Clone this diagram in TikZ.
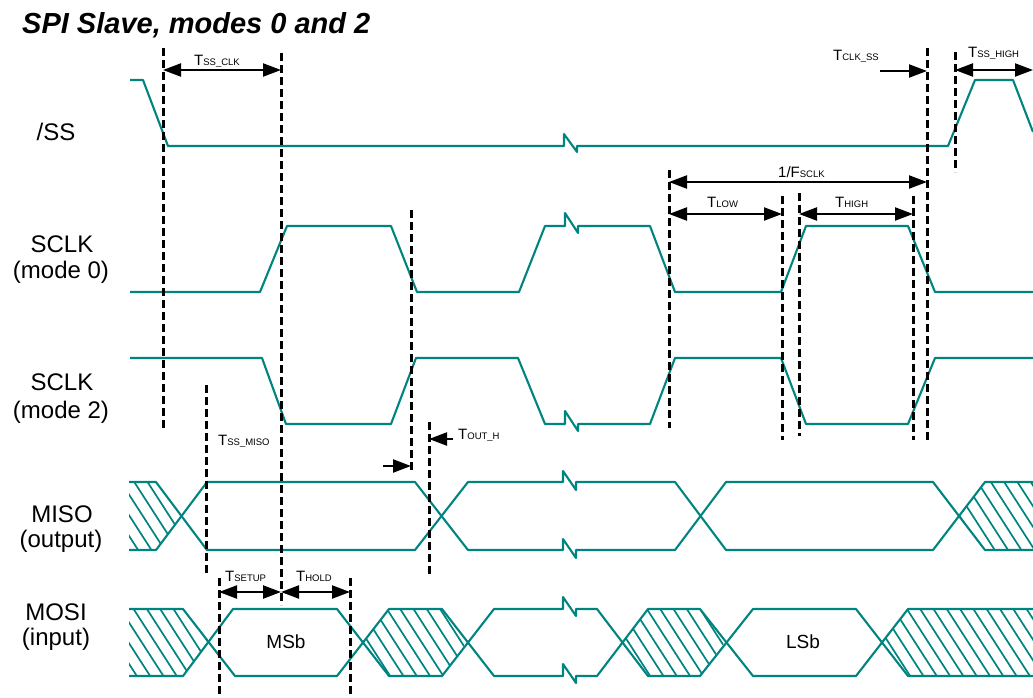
\documentclass[tikz,border=0pt]{standalone}
\usepackage{fontspec}
\setmainfont{Liberation Sans}
\usetikzlibrary{arrows.meta}
\definecolor{sig}{RGB}{0,132,128}
\newcommand\tlab[2]{{\fontsize{15}{15}\selectfont #1}{\fontsize{9.5}{9.5}\selectfont #2}}
\begin{document}
\begin{tikzpicture}[x=1pt,y=-1pt,
  signal/.style={draw=sig,line width=2.1pt,line join=round},
  hatchline/.style={draw=sig,line width=1.7pt},
  guide/.style={draw=black,line width=3pt,dash pattern=on 8pt off 4pt},
  dim/.style={draw=black,line width=2.2pt,{Triangle[length=18pt,width=13pt]}-{Triangle[length=18pt,width=13pt]}},
  dimr/.style={draw=black,line width=2.2pt,-{Triangle[length=18pt,width=13pt]}},
  sigtext/.style={font=\fontsize{24}{26}\selectfont,anchor=base,inner sep=0pt},
  tsub/.style={anchor=base west,inner sep=0pt},
  datatext/.style={font=\fontsize{19}{20}\selectfont,inner sep=0pt}]
\useasboundingbox (0,0) rectangle (1033,697);

% title
\node[anchor=base west,inner sep=0pt,font=\fontsize{29}{31}\selectfont\bfseries\itshape] (title) at (22,33) {SPI Slave, modes 0 and 2};

% signal names
\node[sigtext] (lss) at (56,140) {/SS};
\node[sigtext] (lclk0a) at (62,252) {SCLK};
\node[sigtext] (lclk0b) at (61,278) {(mode 0)};
\node[sigtext] (lclk2a) at (62,390) {SCLK};
\node[sigtext] (lclk2b) at (61,418) {(mode 2)};
\node[sigtext] (lmisoa) at (62,522) {MISO};
\node[sigtext] (lmisob) at (61,547) {(output)};
\node[sigtext] (lmosia) at (56,620) {MOSI};
\node[sigtext] (lmosib) at (56,645) {(input)};

% hatching
\begin{scope}
\clip (129,482) -- (156,482) -- (181,516) -- (156,550) -- (129,550) -- cycle;
\foreach \i in {60,73.3,...,200} \draw[hatchline] (\i,470) -- ++(58,90);
\end{scope}
\begin{scope}
\clip (959,516) -- (985,482) -- (1033,482) -- (1033,550) -- (985,550) -- cycle;
\foreach \i in {890,903.3,...,1040} \draw[hatchline] (\i,470) -- ++(58,90);
\end{scope}
\begin{scope}
\clip (129,609) -- (183,609) -- (208,642) -- (183,676) -- (129,676) -- cycle;
\foreach \i in {60,73.3,...,220} \draw[hatchline] (\i,598) -- ++(58,90);
\end{scope}
\begin{scope}
\clip (363,642) -- (388,609) -- (442,609) -- (467,642) -- (442,676) -- (388,676) -- cycle;
\foreach \i in {300,313.3,...,480} \draw[hatchline] (\i,598) -- ++(58,90);
\end{scope}
\begin{scope}
\clip (623,642) -- (648,609) -- (700,609) -- (725,642) -- (700,676) -- (648,676) -- cycle;
\foreach \i in {560,573.3,...,740} \draw[hatchline] (\i,598) -- ++(58,90);
\end{scope}
\begin{scope}
\clip (883,642) -- (908,609) -- (1033,609) -- (1033,676) -- (908,676) -- cycle;
\foreach \i in {820,833.3,...,1040} \draw[hatchline] (\i,598) -- ++(58,90);
\end{scope}

% /SS
\draw[signal] (130,80) -- (143,80) -- (168,146) -- (564,146) -- (564,134) -- (577,152) -- (577,146)
  -- (948,146) -- (975,80) -- (1013,80) -- (1033,132);
% SCLK mode 0
\draw[signal] (130,292) -- (260,292) -- (287,226) -- (391,226) -- (417,292) -- (519,292) -- (545,226)
  -- (565,226) -- (565,213) -- (578,233) -- (578,226) -- (650,226) -- (675,292) -- (781,292)
  -- (806,226) -- (908,226) -- (935,292) -- (1033,292);
% SCLK mode 2
\draw[signal] (130,358) -- (262,358) -- (286,424) -- (391,424) -- (416,358) -- (518,358) -- (545,424)
  -- (565,424) -- (565,411) -- (578,431) -- (578,424) -- (650,424) -- (675,358) -- (781,358)
  -- (806,424) -- (908,424) -- (935,358) -- (1033,358);
% MISO
\draw[signal] (129,482) -- (156,482) -- (207,550) -- (415,550) -- (468,482)
  -- (563,482) -- (563,471) -- (576,490) -- (576,482) -- (675,482) -- (726,550) -- (933,550) -- (985,482) -- (1033,482);
\draw[signal] (129,550) -- (156,550) -- (207,482) -- (415,482) -- (468,550)
  -- (563,550) -- (563,539) -- (576,558) -- (576,550) -- (675,550) -- (726,482) -- (933,482) -- (985,550) -- (1033,550);
% MOSI
\draw[signal] (129,609) -- (183,609) -- (235,676) -- (337,676) -- (389,609) -- (442,609) -- (494,676)
  -- (563,676) -- (563,664) -- (576,683) -- (576,676) -- (597,676) -- (648,609) -- (700,609) -- (753,676)
  -- (856,676) -- (908,609) -- (1033,609);
\draw[signal] (129,676) -- (183,676) -- (233,609) -- (337,609) -- (389,676) -- (442,676) -- (494,609)
  -- (563,609) -- (563,597) -- (576,616) -- (576,609) -- (597,609) -- (648,676) -- (700,676) -- (753,609)
  -- (856,609) -- (908,676) -- (1033,676);

\node[datatext] (msb) at (286,642) {MSb};
\node[datatext] (lsb) at (803,642) {LSb};

% guide lines
\draw[guide] (163,48) -- (163,430);
\draw[guide] (281,53) -- (281,605);
\draw[guide] (206,385) -- (206,575);
\draw[guide] (411,210) -- (411,473);
\draw[guide] (429,422) -- (429,575);
\draw[guide] (219,578) -- (219,697);
\draw[guide] (350,578) -- (350,697);
\draw[guide] (669,170) -- (669,428);
\draw[guide] (782,196) -- (782,440);
\draw[guide] (799,193) -- (799,436);
\draw[guide] (913,196) -- (913,440);
\draw[guide] (927,48) -- (927,440);
\draw[guide] (955,52) -- (955,172);

% dimension end points
\coordinate (a1) at (163,70);  \coordinate (a2) at (281,70);
\coordinate (b1) at (880,71);  \coordinate (b2) at (927,71);
\coordinate (c1) at (955,70);  \coordinate (c2) at (1033,70);
\coordinate (d1) at (669,182); \coordinate (d2) at (927,182);
\coordinate (e1) at (669,214); \coordinate (e2) at (782,214);
\coordinate (f1) at (799,214); \coordinate (f2) at (913,214);
\coordinate (g1) at (453,439); \coordinate (g2) at (429,439);
\coordinate (h1) at (383,466); \coordinate (h2) at (411,466);
\coordinate (k1) at (219,592); \coordinate (k2) at (281,592);
\coordinate (k3) at (350,592);

\draw[dim] (a1) -- (a2);
\draw[dimr] (b1) -- (b2);
\draw[dim] (c1) -- (c2);
\draw[dim] (d1) -- (d2);
\draw[dim] (e1) -- (e2);
\draw[dim] (f1) -- (f2);
\draw[dimr] (g1) -- (g2);
\draw[dimr] (h1) -- (h2);
\draw[dim] (k1) -- (k2);
\draw[dim] (k2) -- (k3);

% timing labels
\node[tsub] (tssclk) at (194,65) {\tlab{T}{SS\_CLK}};
\node[tsub] (tclkss) at (833,60) {\tlab{T}{CLK\_SS}};
\node[tsub] (tsshigh) at (968,57) {\tlab{T}{SS\_HIGH}};
\node[tsub] (fsclk) at (778,177) {\tlab{1/F}{SCLK}};
\node[tsub] (tlow) at (707,207) {\tlab{T}{LOW}};
\node[tsub] (thigh) at (835,207) {\tlab{T}{HIGH}};
\node[tsub] (tssmiso) at (218,445) {\tlab{T}{SS\_MISO}};
\node[tsub] (touth) at (458,439) {\tlab{T}{OUT\_H}};
\node[tsub] (tsetup) at (225,581) {\tlab{T}{SETUP}};
\node[tsub] (thold) at (296,581) {\tlab{T}{HOLD}};
\end{tikzpicture}
\end{document}
